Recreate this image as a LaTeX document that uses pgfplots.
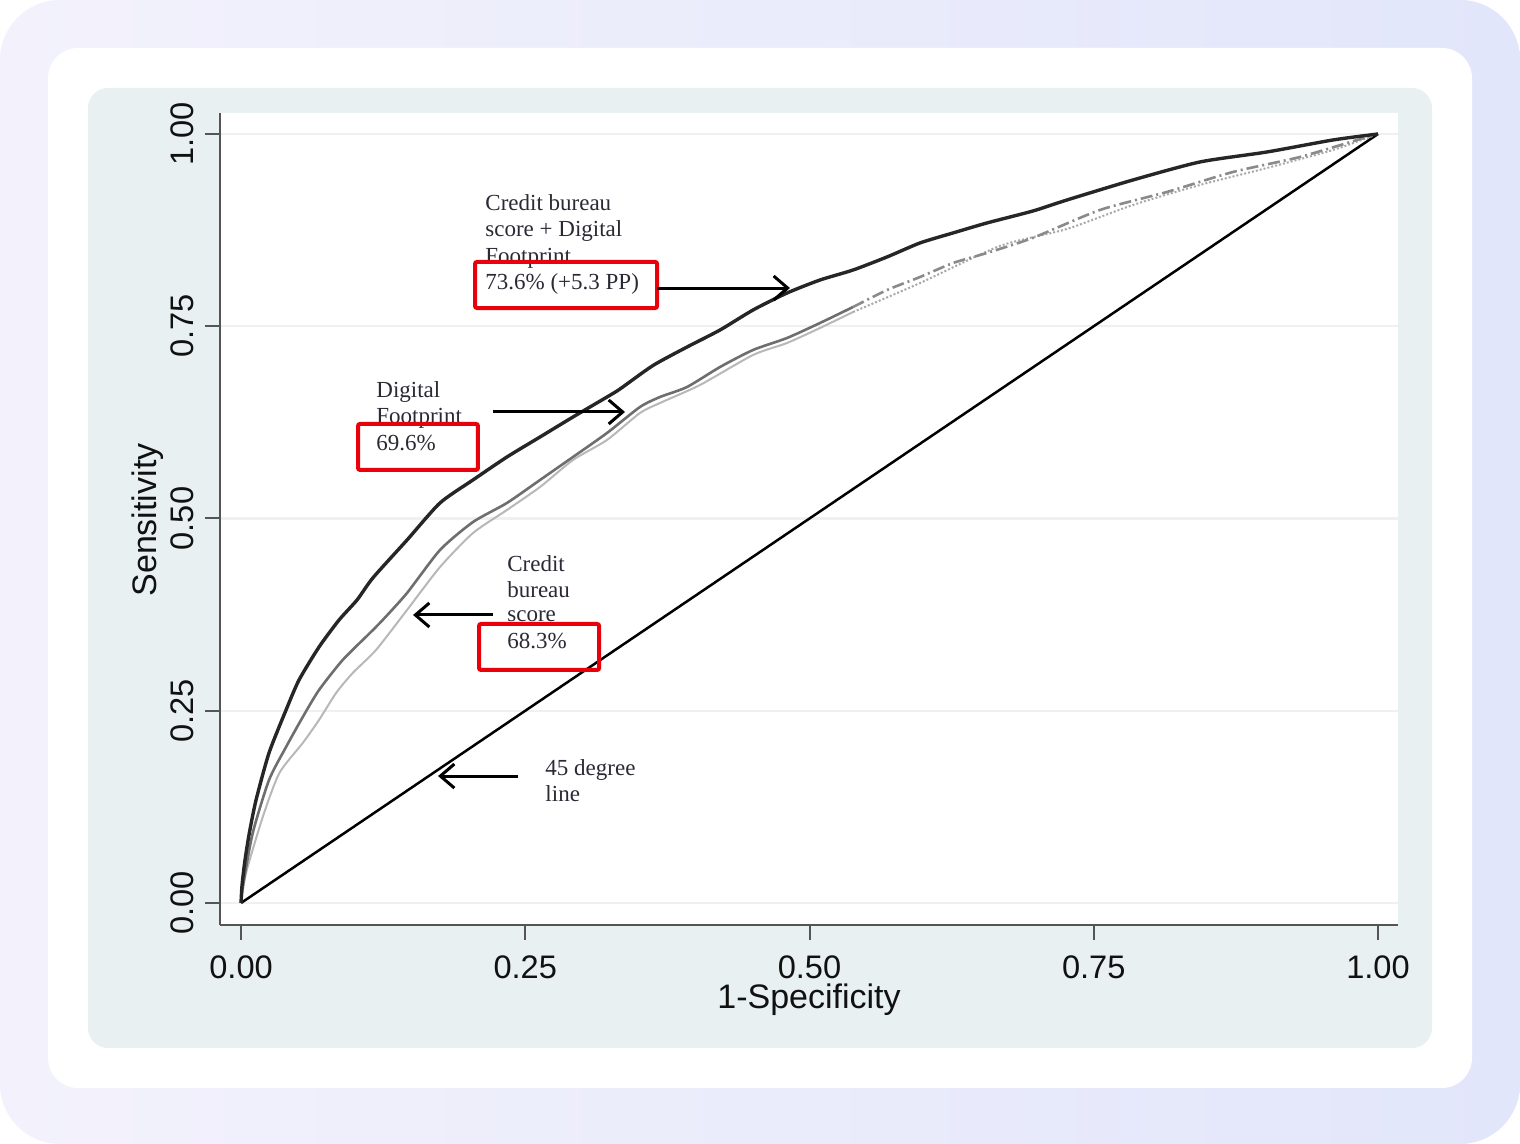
\documentclass[border=0pt]{standalone}
\usepackage{fontspec}
\setmainfont{Liberation Sans}
\newfontfamily\seriffont{Liberation Serif}
\usepackage{pgfplots}
\pgfplotsset{compat=1.18}
\usetikzlibrary{arrows.meta}
\definecolor{lavL}{HTML}{F3F2FC}
\definecolor{lavR}{HTML}{E2E6FA}
\definecolor{panel}{HTML}{E8F0F1}
\definecolor{spine}{HTML}{555555}
\definecolor{gridc}{HTML}{EDF1F2}
\definecolor{tickc}{HTML}{111111}
\definecolor{cBlack}{HTML}{262626}
\definecolor{cGray}{HTML}{6E6E6E}
\definecolor{cGrayB}{HTML}{8A8A8A}
\definecolor{cLight}{HTML}{B8B8B8}
\definecolor{cLightB}{HTML}{A8A8A8}
\definecolor{boxred}{HTML}{E8000B}
\definecolor{anntext}{HTML}{2A2A35}
\begin{document}
\begin{tikzpicture}
\useasboundingbox (0pt,0pt) rectangle (760pt,572pt);
\fill[white] (0pt,0pt) rectangle (760pt,572pt);
\shade[left color=lavL, right color=lavR, rounded corners=30pt] (0pt,0pt) rectangle (760pt,572pt);
\fill[white, rounded corners=15pt] (24pt,28pt) rectangle (736pt,548pt);
\fill[panel, rounded corners=10pt] (44pt,48pt) rectangle (716pt,528pt);
\begin{axis}[
  at={(110pt,109.5pt)}, anchor=south west,
  scale only axis, width=589pt, height=406pt,
  xmin=-0.0185, xmax=1.0176, ymin=-0.0286, ymax=1.0273,
  axis lines*=left,
  axis line style={color=spine, line width=1pt},
  axis background/.style={fill=white},
  xtick={0,0.25,0.5,0.75,1}, ytick={0,0.25,0.5,0.75,1},
  tick align=outside, major tick length=7.5pt,
  tick style={color=spine, line width=1pt},
  ymajorgrids, grid style={color=gridc, line width=1.2pt},
  xticklabel style={font=\fontsize{16.3pt}{18pt}\selectfont, text=tickc, anchor=north, inner xsep=0pt, inner ysep=7.5pt},
  yticklabel style={font=\fontsize{16.3pt}{18pt}\selectfont, text=tickc, rotate=90, anchor=south, inner xsep=0pt, inner ysep=5.5pt},
  /pgf/number format/.cd, fixed, fixed zerofill, precision=2, assume math mode=true,
  /pgfplots/.cd,
  xlabel={1-Specificity}, ylabel={Sensitivity},
  xlabel style={at={(axis description cs:0.5,-0.0924)}, anchor=center, font=\fontsize{17pt}{19pt}\selectfont, text=tickc},
  ylabel style={at={(axis description cs:-0.0610,0.4988)}, anchor=center, font=\fontsize{17pt}{19pt}\selectfont, text=tickc},
]
% 45 degree line
\addplot[black, line width=1.25pt] coordinates {(0,0) (1,1)};
% Credit bureau score
\addplot[cLight, line width=1pt, smooth, tension=0.4] coordinates {
(0,0) (0.0044,0.0390) (0.0191,0.1118) (0.0337,0.1690) (0.0543,0.2081) (0.0686,0.2380)
(0.0836,0.2731) (0.0982,0.2991) (0.1187,0.3290) (0.1460,0.3810) (0.1750,0.4369)
(0.2040,0.4811) (0.2339,0.5111) (0.2630,0.5410)
(0.2920,0.5761) (0.3219,0.6021) (0.3509,0.6372) (0.3685,0.6502) (0.4037,0.6736)
(0.4503,0.7126) (0.4802,0.7282) (0.5092,0.7477) (0.5383,0.7685)};
\addplot[cLightB, line width=1pt, densely dotted, smooth, tension=0.4] coordinates {
(0.5383,0.7685) (0.5972,0.8062) (0.6675,0.8544) (0.7265,0.8765) (0.7845,0.9077)
(0.8434,0.9337) (0.9024,0.9558) (0.9604,0.9792) (1,1)};
% Digital footprint
\addplot[cGray, line width=1.3pt, smooth, tension=0.4] coordinates {
(0,0) (0.0015,0.0208) (0.0103,0.0910) (0.0246,0.1599) (0.0396,0.2029) (0.0543,0.2419)
(0.0686,0.2770) (0.0894,0.3160) (0.1126,0.3500) (0.1246,0.3680) (0.1460,0.4031) (0.1750,0.4590)
(0.2040,0.4954) (0.2339,0.5202) (0.2630,0.5501) (0.2920,0.5800) (0.3219,0.6112)
(0.3509,0.6450) (0.3685,0.6580) (0.3923,0.6710) (0.4213,0.6970) (0.4503,0.7191)
(0.4802,0.7347) (0.5092,0.7542) (0.5383,0.7750)};
\addplot[cGrayB, line width=1.3pt, dash pattern=on 6pt off 2pt on 1pt off 2pt, smooth, tension=0.4] coordinates {
(0.5383,0.7750) (0.5682,0.7971) (0.5972,0.8140) (0.6262,0.8322) (0.6561,0.8453)
(0.6966,0.8650) (0.7555,0.9012) (0.8144,0.9246) (0.8725,0.9506) (0.9314,0.9701)
(0.9903,0.9961) (1,1)};
% Credit bureau score + Digital footprint
\addplot[cBlack, line width=1.7pt, smooth, tension=0.4] coordinates {
(0,0) (0.0009,0.0234) (0.0035,0.0559) (0.0073,0.0910) (0.0132,0.1339) (0.0246,0.1951)
(0.0396,0.2510) (0.0510,0.2900) (0.0686,0.3329) (0.0862,0.3680) (0.1020,0.3940)
(0.1161,0.4230) (0.1460,0.4720) (0.1750,0.5202)
(0.2040,0.5501) (0.2339,0.5800) (0.2630,0.6060) (0.2920,0.6320) (0.3219,0.6580)
(0.3333,0.6684) (0.3624,0.6990) (0.3923,0.7230) (0.4213,0.7451) (0.4503,0.7711)
(0.4802,0.7932) (0.5092,0.8101) (0.5383,0.8231) (0.5682,0.8401) (0.5972,0.8583)
(0.6262,0.8713) (0.6561,0.8843) (0.6966,0.8999) (0.7265,0.9142) (0.7845,0.9402)
(0.8434,0.9636) (0.9024,0.9766) (0.9604,0.9922) (1,1)};
% annotations
\tikzset{ann/.style={anchor=base west, inner sep=0pt, text=anntext, font=\seriffont\fontsize{11.5pt}{13pt}\selectfont},
  rbox/.style={draw=boxred, line width=2pt, rounded corners=1pt},
  arr/.style={line width=1.5pt, -{Straight Barb[length=7pt,width=12pt]}}}
\node[ann] at (axis cs:0.2146,0.8999) {Credit bureau};
\node[ann] at (axis cs:0.2146,0.8661) {score + Digital};
\node[ann] at (axis cs:0.2146,0.8322) {Footprint};
\node[ann] at (axis cs:0.2146,0.7984) {73.6\% (+5.3 PP)};
\draw[rbox] (axis cs:0.2058,0.8336) rectangle (axis cs:0.3659,0.7737);
\draw[arr] (axis cs:0.3659,0.7997) -- (axis cs:0.4828,0.7997);
\node[ann] at (axis cs:0.1187,0.6567) {Digital};
\node[ann] at (axis cs:0.1187,0.6229) {Footprint};
\node[ann] at (axis cs:0.1187,0.5878) {69.6\%};
\draw[rbox] (axis cs:0.1029,0.6229) rectangle (axis cs:0.2084,0.5631);
\draw[arr] (axis cs:0.2216,0.6385) -- (axis cs:0.3377,0.6385);
\node[ann] at (axis cs:0.2339,0.4317) {Credit};
\node[ann] at (axis cs:0.2339,0.3979) {bureau};
\node[ann] at (axis cs:0.2339,0.3654) {score};
\node[ann] at (axis cs:0.2339,0.3303) {68.3\%};
\draw[rbox] (axis cs:0.2093,0.3628) rectangle (axis cs:0.3149,0.3030);
\draw[arr] (axis cs:0.2216,0.3745) -- (axis cs:0.1513,0.3745);
\node[ann] at (axis cs:0.2674,0.1664) {45 degree};
\node[ann] at (axis cs:0.2674,0.1326) {line};
\draw[arr] (axis cs:0.2436,0.1651) -- (axis cs:0.1733,0.1651);
\end{axis}
\end{tikzpicture}
\end{document}
